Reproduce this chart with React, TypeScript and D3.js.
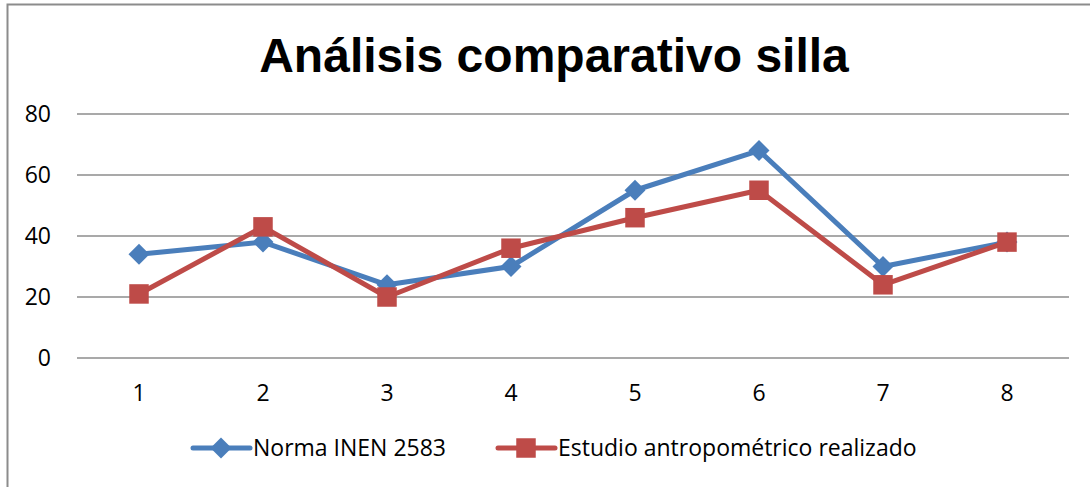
import React, { useEffect, useRef } from 'react';
import * as d3 from 'd3';

const categories = ['1', '2', '3', '4', '5', '6', '7', '8'];
const normaValues = [34, 38, 24, 30, 55, 68, 30, 38];
const estudioValues = [21, 43, 20, 36, 46, 55, 24, 38];
const yTicks = [0, 20, 40, 60, 80];
const seriesNames = ['Norma INEN 2583', 'Estudio antropométrico realizado'];

const W = 1090;
const H = 487;
const BLUE = '#4a7ebb';
const RED = '#be4b48';

export default function App() {
  const ref = useRef<SVGSVGElement>(null);

  useEffect(() => {
    const svg = d3.select(ref.current);
    svg.selectAll('*').remove();

    // outer frame (right and bottom edges fall outside the picture)
    svg.append('rect')
      .attr('x', 7.5).attr('y', 4.5)
      .attr('width', W + 20).attr('height', H)
      .attr('fill', 'white')
      .attr('stroke', '#8c8c8c').attr('stroke-width', 2);

    svg.append('text')
      .attr('x', 554).attr('y', 72)
      .attr('text-anchor', 'middle')
      .attr('font-family', '"Liberation Sans", Arial, sans-serif')
      .attr('font-weight', 'bold')
      .attr('font-size', 48)
      .text('Análisis comparativo silla');

    const x = d3.scaleBand().domain(categories).range([77, 1069]);
    const y = d3.scaleLinear().domain([0, 80]).range([358, 114]);
    const font = '"Open Sans", sans-serif';
    const fs = 23;

    const g = svg.append('g');
    g.selectAll('line.grid')
      .data(yTicks)
      .enter().append('line')
      .attr('x1', 77).attr('x2', 1069)
      .attr('y1', d => y(d)).attr('y2', d => y(d))
      .attr('stroke', '#8c8c8c').attr('stroke-width', 1.5);

    g.selectAll('text.ytick')
      .data(yTicks)
      .enter().append('text')
      .attr('x', 51).attr('y', d => y(d))
      .attr('dy', '0.35em')
      .attr('text-anchor', 'end')
      .attr('font-family', font).attr('font-size', fs)
      .text(d => d);

    g.selectAll('text.xtick')
      .data(categories)
      .enter().append('text')
      .attr('x', d => x(d)! + x.bandwidth() / 2).attr('y', 393)
      .attr('dy', '0.35em')
      .attr('text-anchor', 'middle')
      .attr('font-family', font).attr('font-size', fs)
      .text(d => d);

    const cx = (i: number) => x(categories[i])! + x.bandwidth() / 2;
    const line = d3.line<number>().x((d, i) => cx(i)).y(d => y(d));

    const markerPath = (marker: string) =>
      d3.symbol()
        .type(marker === 'diamond' ? d3.symbolDiamond2 : d3.symbolSquare)
        .size(marker === 'diamond' ? 280 : 380)();

    const drawSeries = (vals: number[], color: string, marker: string) => {
      g.append('path')
        .datum(vals)
        .attr('d', line)
        .attr('fill', 'none')
        .attr('stroke', color)
        .attr('stroke-width', 5)
        .attr('stroke-linejoin', 'round');
      g.selectAll(null)
        .data(vals)
        .enter().append('path')
        .attr('d', markerPath(marker))
        .attr('transform', (d, i) => `translate(${cx(i)},${y(d)})`)
        .attr('fill', color);
    };

    drawSeries(normaValues, BLUE, 'diamond');
    drawSeries(estudioValues, RED, 'square');

    // legend
    const legend = [
      { name: seriesNames[0], color: BLUE, marker: 'diamond', x0: 193 },
      { name: seriesNames[1], color: RED, marker: 'square', x0: 498 },
    ];
    legend.forEach(l => {
      const lg = svg.append('g');
      lg.append('line')
        .attr('x1', l.x0).attr('x2', l.x0 + 57)
        .attr('y1', 448).attr('y2', 448)
        .attr('stroke', l.color).attr('stroke-width', 5)
        .attr('stroke-linecap', 'round');
      lg.append('path')
        .attr('d', markerPath(l.marker))
        .attr('transform', `translate(${l.x0 + 28},448)`)
        .attr('fill', l.color);
      lg.append('text')
        .attr('x', l.x0 + 60).attr('y', 448)
        .attr('dy', '0.35em')
        .attr('font-family', font).attr('font-size', fs)
        .text(l.name);
    });
  }, []);

  return (
    <svg
      ref={ref}
      width={W}
      height={H}
      style={{ position: 'fixed', left: 0, top: 0, display: 'block', background: 'white' }}
    />
  );
}
